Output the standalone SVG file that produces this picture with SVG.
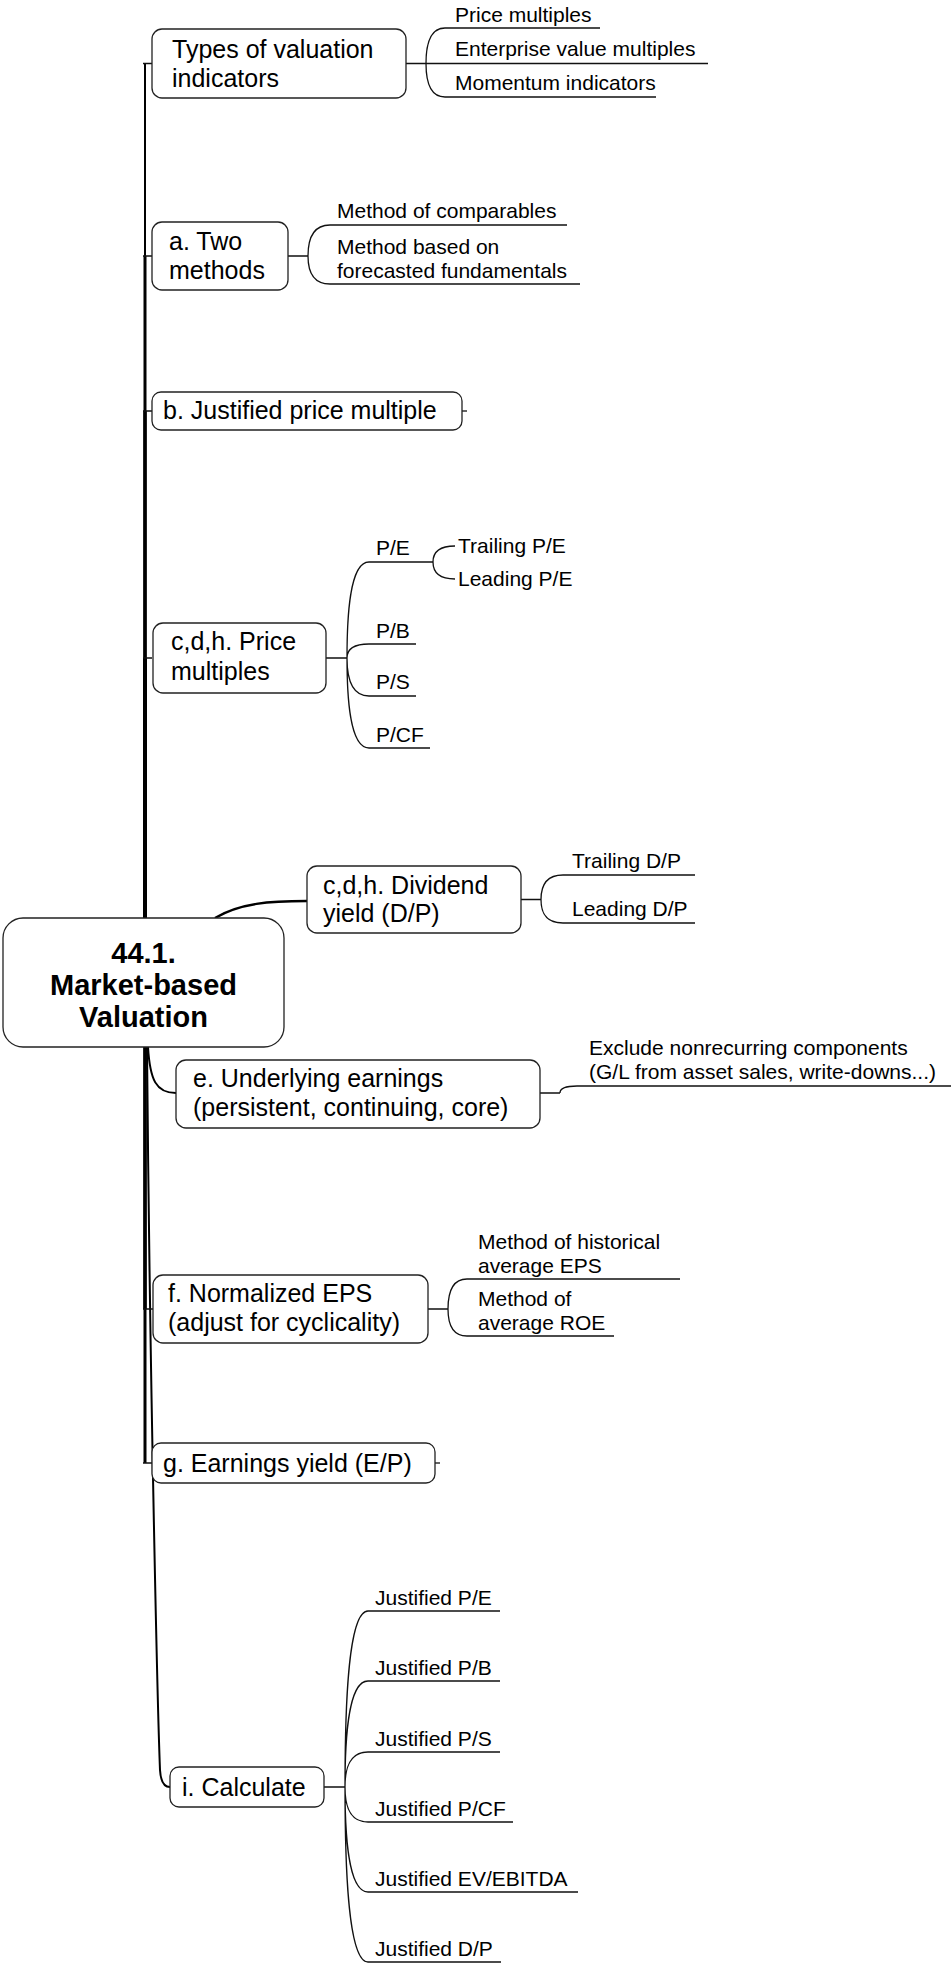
<svg xmlns="http://www.w3.org/2000/svg" width="951" height="1965" viewBox="0 0 951 1965">
<style>
text{font-family:"Liberation Sans",Arial,sans-serif;fill:#000}
.n{font-size:25px}
.c{font-size:21px}
.r{font-size:29px;font-weight:bold;text-anchor:middle}
.box{fill:#fff;stroke:#222;stroke-width:1.3}
.ln{fill:none;stroke:#111;stroke-width:1.3}
.tr{fill:none;stroke:#000}
</style>
<rect width="951" height="1965" fill="#fff"/>
<g id="connectors">
<path class="tr" stroke-width="2" d="M145 918V63.5"/>
<path class="tr" stroke-width="3" d="M145 918V256"/>
<path class="tr" stroke-width="3.5" d="M145 918V411"/>
<path class="tr" stroke-width="4" d="M145 918V658"/>
<path class="tr" stroke-width="2.5" d="M215 918C240 903 270 901 307 901"/>
<path class="tr" stroke-width="2" d="M148 1047C150 1080 156 1093 176 1093"/>
<path class="tr" stroke-width="3.5" d="M145 1047V1309"/>
<path class="tr" stroke-width="3" d="M145 1047V1463"/>
<path class="tr" stroke-width="2" d="M147 1047C150 1400 158 1720 160 1770Q161 1787 170 1787"/>
<path class="ln" d="M143 63.5H152M143 256H152M143 411H152M143 658H152M143 1309H153M143 1463H152"/>
<path class="ln" d="M406 63.5H426M426 63.5C426 49.3 428 28 445 28H600M426 63.5H708M426 63.5C426 77.7 428 97 445 97H656"/>
<path class="ln" d="M288 256H308M308 256C308 243.6 310 225 330 225H567M308 256C308 267.2 310 284 330 284H580"/>
<path class="ln" d="M462 411H467"/>
<path class="ln" d="M326 658H347M347 658C347 619.6 349 562 369 562H433M347 658C347 652.4 349 644 369 644H416M347 658C347 673.2 349 696 369 696H416M347 658C347 694 349 748 369 748H430"/>
<path class="ln" d="M433 562C433 555.6 436 546 455 546M433 562C433 568.8 436 579 455 579"/>
<path class="ln" d="M521 899.5H541M541 899.5C541 889.7 543 875 563 875H695M541 899.5C541 909.1 543 923 563 923H695"/>
<path class="ln" d="M540 1093H560M560 1093C560 1090.2 562 1086 577 1086H951"/>
<path class="ln" d="M428 1309H448M448 1309C448 1297 450 1279 467 1279H680M448 1309C448 1319.8 450 1336 467 1336H614"/>
<path class="ln" d="M324 1787H345M345 1787C345 1716.6 347 1611 368 1611H500M345 1787C345 1744.6 347 1681 368 1681H500M345 1787C345 1773 347 1752 368 1752H500M345 1787C345 1801 347 1822 368 1822H513M345 1787C345 1829 347 1892 368 1892H578M345 1787C345 1857 347 1962 368 1962H501"/>
<path class="ln" d="M435 1463H440"/>
</g>
<g id="root">
<rect class="box" x="3" y="918" width="281" height="129" rx="20"/>
<text class="r" x="143.5" y="963">44.1.</text>
<text class="r" x="143.5" y="995">Market-based</text>
<text class="r" x="143.5" y="1027">Valuation</text>
</g>
<g id="types">
<rect class="box" x="152" y="29" width="254" height="69" rx="10"/>
<text class="n" x="172" y="58">Types of valuation</text>
<text class="n" x="172" y="87">indicators</text>
</g>
<g id="types-children">
<text class="c" x="455" y="22">Price multiples</text>
<text class="c" x="455" y="56">Enterprise value multiples</text>
<text class="c" x="455" y="90">Momentum indicators</text>
</g>
<g id="two-methods">
<rect class="box" x="152" y="222" width="136" height="68" rx="10"/>
<text class="n" x="169" y="250">a. Two</text>
<text class="n" x="169" y="279">methods</text>
</g>
<g id="two-methods-children">
<text class="c" x="337" y="218">Method of comparables</text>
<text class="c" x="337" y="254">Method based on</text>
<text class="c" x="337" y="278">forecasted fundamentals</text>
</g>
<g id="justified">
<rect class="box" x="152" y="392" width="310" height="38" rx="9"/>
<text class="n" x="163" y="419">b. Justified price multiple</text>
</g>
<g id="price-multiples">
<rect class="box" x="153" y="623" width="173" height="70" rx="10"/>
<text class="n" x="171" y="650">c,d,h. Price</text>
<text class="n" x="171" y="680">multiples</text>
</g>
<g id="price-multiples-children">
<text class="c" x="376" y="555">P/E</text>
<text class="c" x="376" y="638">P/B</text>
<text class="c" x="376" y="689">P/S</text>
<text class="c" x="376" y="742">P/CF</text>
<text class="c" x="458" y="553">Trailing P/E</text>
<text class="c" x="458" y="586">Leading P/E</text>
</g>
<g id="dividend">
<rect class="box" x="307" y="866" width="214" height="67" rx="10"/>
<text class="n" x="323" y="894">c,d,h. Dividend</text>
<text class="n" x="323" y="922">yield (D/P)</text>
</g>
<g id="dividend-children">
<text class="c" x="572" y="868">Trailing D/P</text>
<text class="c" x="572" y="916">Leading D/P</text>
</g>
<g id="underlying">
<rect class="box" x="176" y="1060" width="364" height="68" rx="10"/>
<text class="n" x="193" y="1087">e. Underlying earnings</text>
<text class="n" x="193" y="1116">(persistent, continuing, core)</text>
</g>
<g id="underlying-children">
<text class="c" x="589" y="1055">Exclude nonrecurring components</text>
<text class="c" x="589" y="1079">(G/L from asset sales, write-downs...)</text>
</g>
<g id="normalized">
<rect class="box" x="153" y="1275" width="275" height="68" rx="10"/>
<text class="n" x="168" y="1302">f. Normalized EPS</text>
<text class="n" x="168" y="1331">(adjust for cyclicality)</text>
</g>
<g id="normalized-children">
<text class="c" x="478" y="1249">Method of historical</text>
<text class="c" x="478" y="1273">average EPS</text>
<text class="c" x="478" y="1306">Method of</text>
<text class="c" x="478" y="1330">average ROE</text>
</g>
<g id="earnings-yield">
<rect class="box" x="152" y="1443" width="283" height="40" rx="9"/>
<text class="n" x="163" y="1472">g. Earnings yield (E/P)</text>
</g>
<g id="calculate">
<rect class="box" x="170" y="1767" width="154" height="40" rx="9"/>
<text class="n" x="182" y="1796">i. Calculate</text>
</g>
<g id="calculate-children">
<text class="c" x="375" y="1605">Justified P/E</text>
<text class="c" x="375" y="1675">Justified P/B</text>
<text class="c" x="375" y="1746">Justified P/S</text>
<text class="c" x="375" y="1816">Justified P/CF</text>
<text class="c" x="375" y="1886">Justified EV/EBITDA</text>
<text class="c" x="375" y="1956">Justified D/P</text>
</g>
</svg>
